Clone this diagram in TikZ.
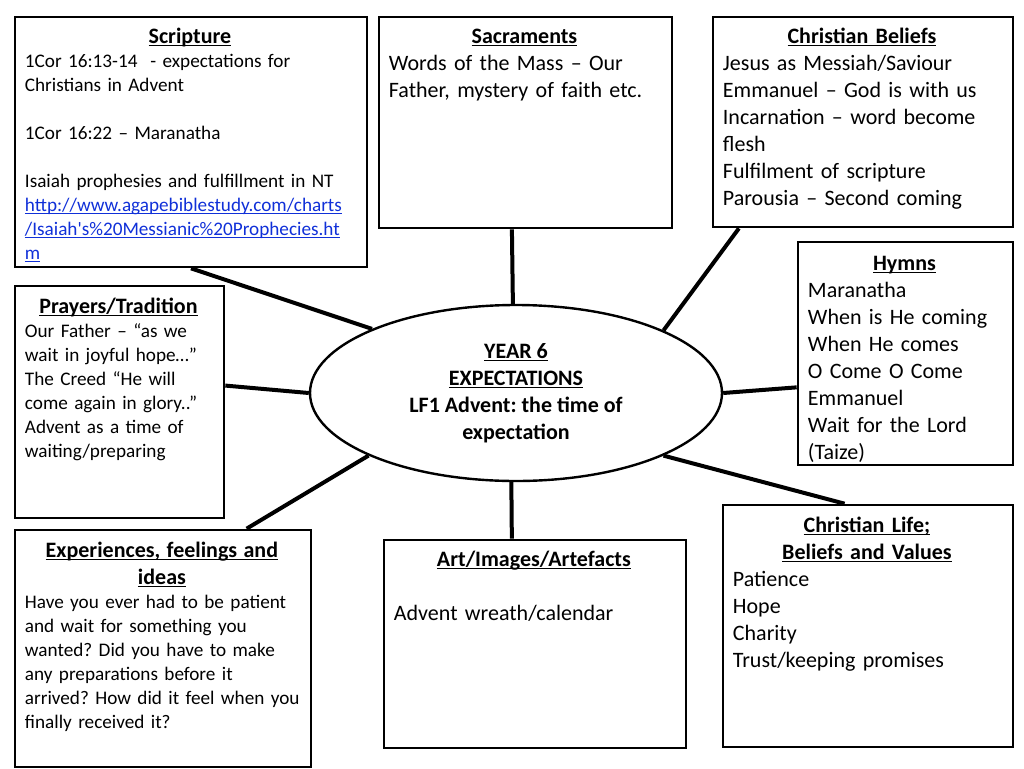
\documentclass[tikz,border=0pt]{standalone}
\usepackage{fontspec}
\setmainfont{Carlito}
\usetikzlibrary{shapes.geometric,calc,fit}
\definecolor{linkblue}{HTML}{1030D8}
\setlength\parindent{0pt}
\frenchspacing
\newcommand\bigtxt{\fontsize{16.5}{20.25}\selectfont}
\newcommand\smalltxt{\fontsize{14.4}{18}\selectfont}
\newcommand\uln[1]{\leavevmode\setbox0\hbox{#1}\rlap{\rule[-1.9pt]{\wd0}{0.9pt}}\box0}
\newcommand\hd[1]{{\centering\fontsize{16.5}{20.25}\selectfont\bfseries\strut\uln{#1}\par}}
\newcommand\lnk[1]{\textcolor{linkblue}{\uln{#1}}}

\begin{document}
\begin{tikzpicture}[x=0.75pt,y=-0.75pt,
    card/.style  = {draw, line width=2pt, inner sep=0pt},
    txt/.style   = {anchor=north west, inner sep=0pt, align=left},
    spoke/.style = {line width=3pt},
    hub/.style   = {ellipse, draw, line width=1.8pt, fill=white, inner sep=0pt,
                    minimum width=309pt, minimum height=132pt,
                    align=center, font=\bigtxt\bfseries},
  ]

  \useasboundingbox (0,0) rectangle (1024,768);

  % frames
  \node[card, fit={(15,17) (367,267)}]   (scrip)  {};
  \node[card, fit={(379,17) (672,228)}]  (sacr)   {};
  \node[card, fit={(713,17) (1013,227)}] (belief) {};
  \node[card, fit={(798,242) (1013,465)}] (hymn)  {};
  \node[card, fit={(15,286) (224,518)}]  (pray)   {};
  \node[card, fit={(15,530) (311,767)}]  (exper)  {};
  \node[card, fit={(384,540) (686,748)}] (art)    {};
  \node[card, fit={(723,505) (1013,747)}] (life)  {};

  % contents
  \node[txt, text width=247.5pt, font=\smalltxt] (scripT) at ([shift={(11,9)}]scrip.north west)
    {\hd{Scripture}
     1Cor 16:13-14\ \ - expectations for\\
     Christians in Advent\\ ~\\
     1Cor 16:22 – Maranatha\\ ~\\
     Isaiah prophesies and fulfillment in NT\\
     \lnk{http://www.agapebiblestudy.com/charts}\\
     \lnk{/Isaiah\textquotesingle s\%20Messianic\%20Prophecies.ht}\\
     \lnk{m}};

  \node[txt, text width=203.25pt, font=\bigtxt] (sacrT) at ([shift={(11,9)}]sacr.north west)
    {\hd{Sacraments}
     Words of the Mass – Our\\
     Father, mystery of faith etc.};

  \node[txt, text width=208.5pt, font=\bigtxt] (beliefT) at ([shift={(11,9)}]belief.north west)
    {\hd{Christian Beliefs}
     Jesus as Messiah/Saviour\\
     Emmanuel – God is with us\\
     Incarnation – word become\\
     flesh\\
     Fulfilment of scripture\\
     Parousia – Second coming};

  \node[txt, text width=144.75pt, font=\bigtxt] (hymnT) at ([shift={(11,11)}]hymn.north west)
    {\hd{Hymns}
     Maranatha\\
     When is He coming\\
     When He comes\\
     O Come O Come\\
     Emmanuel\\
     Wait for the Lord\\
     (Taize)};

  \node[txt, text width=140.25pt, font=\smalltxt] (prayT) at ([shift={(11,10)}]pray.north west)
    {\hd{Prayers/Tradition}
     Our Father – “as we\\
     wait in joyful hope…”\\
     The Creed “He will\\
     come again in glory..”\\
     Advent as a time of\\
     waiting/preparing};

  \node[txt, text width=205.5pt, font=\smalltxt] (experT) at ([shift={(11,10)}]exper.north west)
    {\hd{Experiences, feelings and}
     \hd{ideas}
     Have you ever had to be patient\\
     and wait for something you\\
     wanted? Did you have to make\\
     any preparations before it\\
     \mbox{arrived? How did it feel when you}\\
     finally received it?};

  \node[txt, text width=210pt, font=\bigtxt] (artT) at ([shift={(11,9)}]art.north west)
    {\hd{Art/Images/Artefacts}
     ~\\
     Advent wreath/calendar};

  \node[txt, text width=201pt, font=\bigtxt] (lifeT) at ([shift={(11,10)}]life.north west)
    {\hd{Christian Life;}
     \hd{Beliefs and Values}
     Patience\\
     Hope\\
     Charity\\
     Trust/keeping promises};

  % centre
  \node[hub] (core) at (516,393)
    {\uln{YEAR 6}\\ \uln{EXPECTATIONS}\\ LF1 Advent: the time of\\ expectation};

  % spokes
  \draw[spoke] (scrip.south) -- (core.156.7);
  \draw[spoke] ($(sacr.south west)!.454!(sacr.south east)$) -- (core.92.6);
  \draw[spoke] ($(belief.south west)!.09!(belief.south east)$) -- (core.23.3);
  \draw[spoke] ($(hymn.north west)!.65!(hymn.south west)$) -- (core.0);
  \draw[spoke] ($(pray.north east)!.43!(pray.south east)$) -- (core.180);
  \draw[spoke] ($(exper.north west)!.78!(exper.north east)$) -- (core.203.3);
  \draw[spoke] ($(art.north west)!.424!(art.north east)$) -- (core.267.4);
  \draw[spoke] ($(life.north west)!.42!(life.north east)$) -- (core.337.5);

\end{tikzpicture}
\end{document}
